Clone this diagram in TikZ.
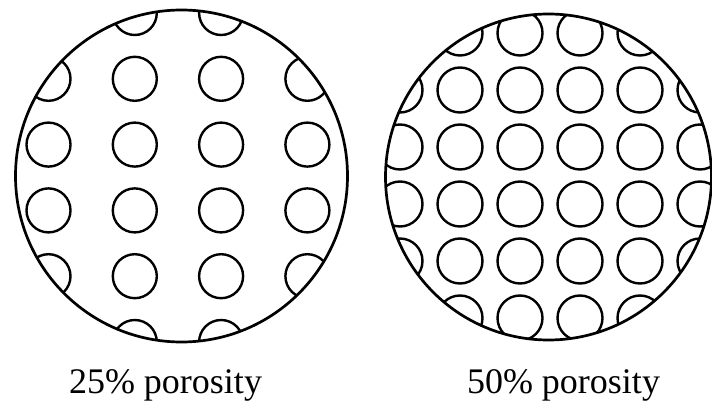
\documentclass[tikz,border=0pt]{standalone}
\usepackage{fontspec}
\setmainfont{Liberation Serif}
\begin{document}
\begin{tikzpicture}[x=1pt, y=-1pt,
    shell/.style={draw=black, line width=2.7pt},
    pore/.style={draw=black, line width=2.4pt},
    caption/.style={font=\fontsize{36}{40}\selectfont, anchor=base, inner sep=0pt},
]
\useasboundingbox (0,0) rectangle (712,403);

% 25% porosity: 4 columns, wide spacing
\begin{scope}
  \clip (181.5,176) circle (166pt);
  \foreach \i in {0,...,3}
    \foreach \j in {0,...,5}
      \draw[pore] (48.5+86.3*\i, 13+65.8*\j) circle (22pt);
\end{scope}
\draw[shell] (181.5,176) circle (166pt);

% 50% porosity: 6 columns, tight spacing
\begin{scope}
  \clip (548.5,177) circle (163pt);
  \foreach \i in {0,...,5}
    \foreach \j in {0,...,5}
      \draw[pore] (400+60*\i, 33+57*\j) circle (22.5pt);
\end{scope}
\draw[shell] (548.5,177) circle (163pt);

\node[caption] (lbl25) at (165.5,393) {25\% porosity};
\node[caption] (lbl50) at (563.5,393) {50\% porosity};
\end{tikzpicture}
\end{document}
